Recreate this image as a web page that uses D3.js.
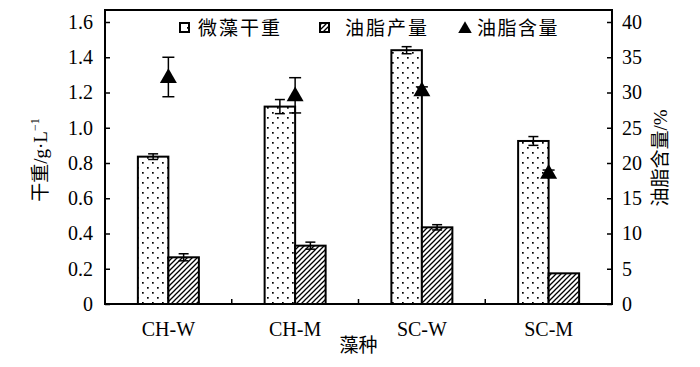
<!DOCTYPE html>
<html><head><meta charset="utf-8">
<script src="https://cdn.jsdelivr.net/npm/d3@7"></script>
<style>body{margin:0;background:#fff}svg{display:block}</style>
</head><body>
<script>
const categories = ["CH-W","CH-M","SC-W","SC-M"];
const dryWeight = [0.836, 1.12, 1.44, 0.925];
const dryWeightErr = [0.016, 0.04, 0.02, 0.025];
const lipidYield = [0.265, 0.331, 0.435, 0.174];
const lipidYieldErr = [0.02, 0.02, 0.015, 0];
const lipidContent = [32.2, 29.6, 30.3, 18.6];
const lipidContentErr = [2.8, 2.5, 0.5, 0.4];
const leftTicks = [0,0.2,0.4,0.6,0.8,1.0,1.2,1.4,1.6];
const rightTicks = [0,5,10,15,20,25,30,35,40];
const seriesNames = ["微藻干重","油脂产量","油脂含量"];

const W=700,H=367;
const L=105,R=612,T=10,B=304,TOPV=22;
const svg=d3.select("body").append("svg").attr("width",W).attr("height",H);
const defs=svg.append("defs");
const dots=defs.append("pattern").attr("id","dots").attr("patternUnits","userSpaceOnUse").attr("width",10).attr("height",10);
dots.append("rect").attr("width",10).attr("height",10).attr("fill","#fff");
dots.append("rect").attr("x",2).attr("y",2).attr("width",1.7).attr("height",1.7).attr("fill","#000");
dots.append("rect").attr("x",7).attr("y",7).attr("width",1.7).attr("height",1.7).attr("fill","#000");
const hatch=defs.append("pattern").attr("id","hatch").attr("patternUnits","userSpaceOnUse").attr("width",5).attr("height",5);
hatch.append("rect").attr("width",5).attr("height",5).attr("fill","#fff");
hatch.append("path").attr("d","M-1,6 L6,-1 M-1,1 L1,-1 M4,6 L6,4").attr("stroke","#000").attr("stroke-width",1.3);

const x=d3.scaleBand().domain(categories).range([L,R]);
const yL=d3.scaleLinear().domain([0,1.6]).range([B,TOPV]);
const yR=d3.scaleLinear().domain([0,40]).range([B,TOPV]);
const bw=30.5;
const serif="'Liberation Serif','Times New Roman',serif";
const cjk="'Noto Sans CJK SC',sans-serif";

const g=svg.append("g");
categories.forEach((c,i)=>{
  const cx=x(c)+x.bandwidth()/2;
  g.append("rect").attr("x",cx-bw).attr("y",yL(dryWeight[i])).attr("width",bw).attr("height",B-yL(dryWeight[i]))
    .attr("fill","url(#dots)").attr("stroke","#000").attr("stroke-width",2);
  g.append("rect").attr("x",cx).attr("y",yL(lipidYield[i])).attr("width",bw).attr("height",B-yL(lipidYield[i]))
    .attr("fill","url(#hatch)").attr("stroke","#000").attr("stroke-width",2);
});
function errBar(cx,y0,y1,cw){
  if(Math.abs(y1-y0)<0.5) return;
  g.append("line").attr("x1",cx).attr("x2",cx).attr("y1",y0).attr("y2",y1).attr("stroke","#000").attr("stroke-width",1.5);
  [y0,y1].forEach(yy=>g.append("line").attr("x1",cx-cw/2).attr("x2",cx+cw/2).attr("y1",yy).attr("y2",yy).attr("stroke","#000").attr("stroke-width",1.5));
}
categories.forEach((c,i)=>{
  const cx=x(c)+x.bandwidth()/2;
  errBar(cx-bw/2,yL(dryWeight[i]-dryWeightErr[i]),yL(dryWeight[i]+dryWeightErr[i]),10);
  errBar(cx+bw/2,yL(lipidYield[i]-lipidYieldErr[i]),yL(lipidYield[i]+lipidYieldErr[i]),10);
  errBar(cx,yR(lipidContent[i]-lipidContentErr[i]),yR(lipidContent[i]+lipidContentErr[i]),12);
});
const tri=d3.symbol().type(d3.symbolTriangle).size(125);
categories.forEach((c,i)=>{
  const cx=x(c)+x.bandwidth()/2;
  g.append("path").attr("d",tri).attr("transform",`translate(${cx},${yR(lipidContent[i])+1})`).attr("fill","#000");
});

svg.append("rect").attr("x",L).attr("y",T).attr("width",R-L).attr("height",B-T).attr("fill","none").attr("stroke","#000").attr("stroke-width",2);

const la=svg.append("g").attr("transform",`translate(${L},0)`)
 .call(d3.axisLeft(yL).tickValues(leftTicks).tickSize(-5).tickPadding(12).tickFormat(d=>d===0?"0":d3.format(".1f")(d)));
la.attr("font-family",null).attr("font-size",null);
la.select(".domain").remove();
la.selectAll("line").attr("stroke-width",1.5);
la.selectAll("text").style("font-family",serif).style("font-size","20px").attr("fill","#000");
const ra=svg.append("g").attr("transform",`translate(${R},0)`)
 .call(d3.axisRight(yR).tickValues(rightTicks).tickSize(-5).tickPadding(10));
ra.attr("font-family",null).attr("font-size",null);
ra.select(".domain").remove();
ra.selectAll("line").attr("stroke-width",1.5);
ra.selectAll("text").style("font-family",serif).style("font-size","20px").attr("fill","#000");
const ba=svg.append("g").attr("transform",`translate(0,${B})`)
 .call(d3.axisBottom(x).tickSize(0).tickPadding(10));
ba.attr("font-family",null).attr("font-size",null);
ba.select(".domain").remove();
ba.selectAll("text").style("font-family",serif).style("font-size","20px").attr("fill","#000").attr("dy","1.1em");
categories.slice(1).forEach(c=>{
  svg.append("line").attr("x1",x(c)).attr("x2",x(c)).attr("y1",B).attr("y2",B-5).attr("stroke","#000").attr("stroke-width",1.5);
});

svg.append("text").attr("x",(L+R)/2).attr("y",352).attr("text-anchor","middle").style("font-family",cjk).style("font-size","19px").text("藻种");
const lt=svg.append("text").attr("transform","translate(47,160) rotate(-90)").attr("text-anchor","middle").style("font-size","19px").style("font-family",serif);
lt.append("tspan").style("font-family",cjk).text("干重");
lt.append("tspan").text("/g·L");
lt.append("tspan").style("font-size","12px").attr("dy",-8).text("−1");
const rt=svg.append("text").attr("transform","translate(667,158) rotate(-90)").attr("text-anchor","middle").style("font-size","19px");
rt.append("tspan").style("font-family",cjk).text("油脂含量");
rt.append("tspan").style("font-family",serif).text("/%");

const lg=svg.append("g");
const ly=28;
lg.append("rect").attr("x",180).attr("y",ly-5).attr("width",9).attr("height",9).attr("fill","url(#dots)").attr("stroke","#000").attr("stroke-width",2);
lg.append("text").attr("x",198).attr("y",ly+7).style("font-family",cjk).style("font-size","19px").style("letter-spacing","2px").text(seriesNames[0]);
lg.append("rect").attr("x",320).attr("y",ly-5).attr("width",9).attr("height",9).attr("fill","url(#hatch)").attr("stroke","#000").attr("stroke-width",2);
lg.append("text").attr("x",345).attr("y",ly+7).style("font-family",cjk).style("font-size","19px").style("letter-spacing","2px").text(seriesNames[1]);
lg.append("path").attr("d",d3.symbol().type(d3.symbolTriangle).size(80)).attr("transform",`translate(465,${ly+1})`).attr("fill","#000");
lg.append("text").attr("x",477).attr("y",ly+7).style("font-family",cjk).style("font-size","19px").style("letter-spacing","1.5px").text(seriesNames[2]);
</script>
</body></html>
